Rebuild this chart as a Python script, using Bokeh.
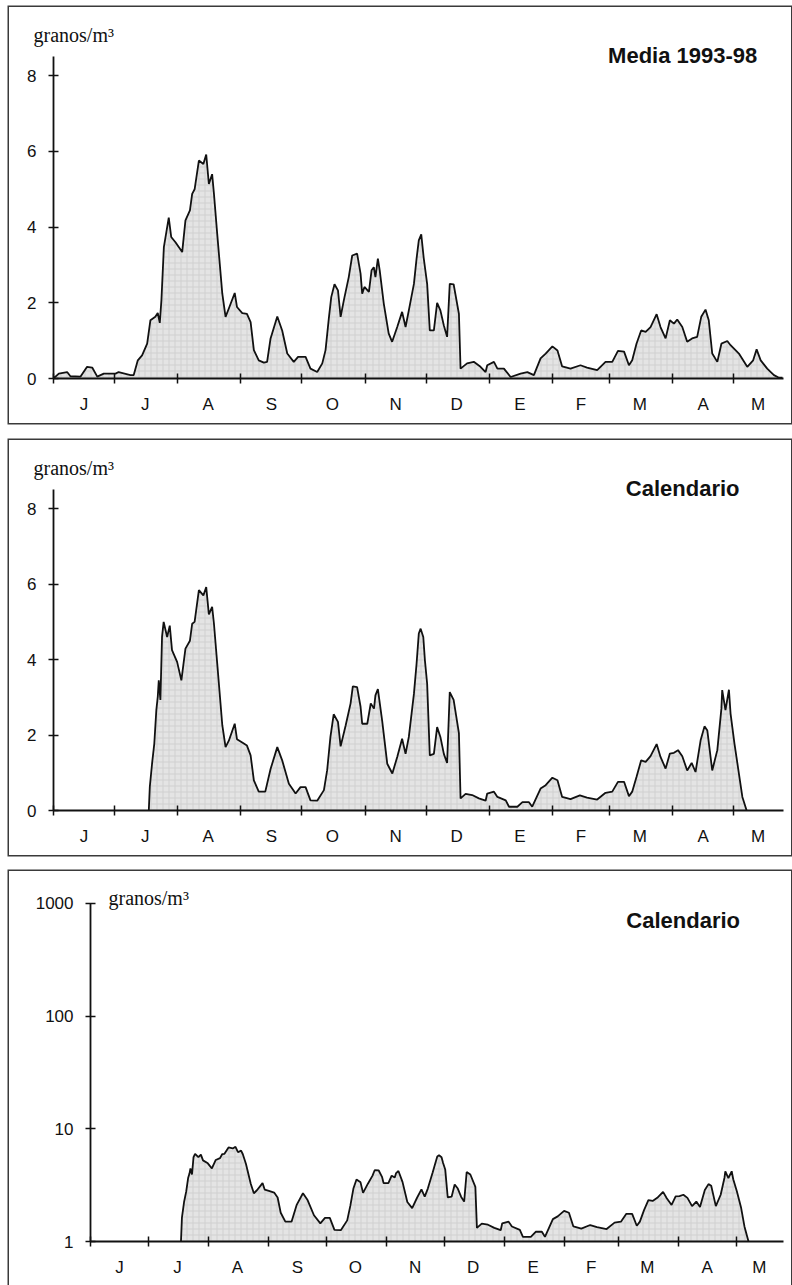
from bokeh.plotting import figure
from bokeh.models import FixedTicker, Label, NumeralTickFormatter, Range1d, Spacer, Title
from bokeh.embed import file_html
from bokeh.resources import INLINE

# ---------------- data ----------------
month_labels = ["J", "J", "A", "S", "O", "N", "D", "E", "F", "M", "A", "M"]
month_starts = [0, 30, 61, 92, 122, 153, 183, 214, 245, 273, 304, 334]
month_mids = [15, 45, 76, 107, 137, 168, 198, 229, 259, 288, 319, 346]
x_end = 358.5

# Panel 1: media 1993-98 (granos/m3), day 0 = 1 June
media_days = [0, 1, 2.6, 6.7, 8.3, 13.3, 16.5, 19, 21.5, 24.7, 30.5, 32, 37.8, 39.4, 41.4, 43.5,
              46, 47.6, 50, 51.2, 52.2, 53, 54.2, 56.6, 57.8, 59.9, 63.2, 64.8, 67, 68.1, 69.3,
              71.4, 73.6, 75, 76.3, 77.9, 78.8, 80.4, 82.9, 84.5, 86.1, 89, 90.1, 92.7, 95, 96.8,
              98.4, 100.8, 103.3, 104.9, 106.6, 109.9, 112.3, 114.8, 118, 120.1, 123.8, 126.2,
              129.5, 132, 133.6, 135.2, 136.4, 138, 139.7, 141, 142.6, 145, 146.7, 149.1, 150.8,
              151.6, 152.7, 154.9, 156.2, 157.3, 158.1, 159.3, 160.2, 162.2, 164.6, 166.3, 168.8,
              171.2, 172.9, 174.5, 177, 178.3, 179.4, 180.6, 181.8, 183.5, 184.8, 186.8, 188.4,
              190, 191.7, 193.3, 194.6, 196.5, 199.1, 199.9, 203.1, 206.4, 209.7, 212.2, 213,
              216.3, 218, 221.2, 224.5, 229.4, 232.7, 235.9, 239.2, 241.7, 245, 247.5, 249.8,
              253.9, 258.8, 262, 267, 271.1, 274.4, 277.2, 280.2, 282.6, 284.2, 286.3, 288.6,
              290.8, 293.2, 296.2, 298.1, 300.6, 302.7, 304.7, 306.3, 308.8, 311.2, 313.6, 316.1,
              318.1, 320.2, 321.8, 323.5, 326, 328, 330.9, 332.5, 336.6, 340.7, 343.6, 345.3,
              347.3, 350.5, 353.8, 356.3, 358]
media_vals = [0.02, 0.05, 0.13, 0.17, 0.06, 0.05, 0.31, 0.29, 0.05, 0.13, 0.13, 0.17, 0.09, 0.09,
              0.48, 0.61, 0.92, 1.54, 1.63, 1.73, 1.47, 2.07, 3.47, 4.25, 3.74, 3.6, 3.34, 4.18,
              4.44, 4.88, 5.0, 5.76, 5.67, 5.92, 5.14, 5.4, 4.88, 3.82, 2.24, 1.63, 1.85, 2.26,
              1.89, 1.73, 1.71, 1.49, 0.75, 0.48, 0.42, 0.44, 1.06, 1.64, 1.27, 0.66, 0.44, 0.57,
              0.57, 0.26, 0.17, 0.4, 0.75, 1.58, 2.15, 2.49, 2.33, 1.63, 2.07, 2.68, 3.25, 3.3,
              2.77, 2.24, 2.42, 2.29, 2.86, 2.94, 2.68, 3.17, 2.86, 1.98, 1.19, 0.97, 1.36, 1.76,
              1.36, 1.8, 2.5, 3.17, 3.65, 3.81, 3.19, 2.5, 1.27, 1.27, 2.0, 1.8, 1.4, 1.1, 2.5,
              2.49, 1.71, 0.26, 0.4, 0.44, 0.31, 0.17, 0.35, 0.44, 0.26, 0.26, 0.04, 0.13, 0.17,
              0.09, 0.53, 0.66, 0.85, 0.74, 0.32, 0.26, 0.35, 0.29, 0.22, 0.44, 0.44, 0.73, 0.71,
              0.35, 0.48, 0.92, 1.27, 1.23, 1.36, 1.7, 1.36, 1.06, 1.54, 1.45, 1.56, 1.36, 0.97,
              1.06, 1.1, 1.63, 1.82, 1.54, 0.66, 0.44, 0.92, 0.99, 0.88, 0.66, 0.31, 0.48, 0.77,
              0.48, 0.26, 0.09, 0.02, 0.02]

# Panels 2 and 3: calendario (granos/m3)
cal_days = [46.8, 47.3, 48.4, 49.5, 50.5, 51.2, 51.7, 52.5, 53.3, 54.1, 55.8, 57.1, 58.2, 60.7,
            62.8, 64.8, 67, 68.1, 69.3, 71.4, 73.6, 75, 76.3, 77.9, 78.8, 80.4, 82.9, 84.5, 86.1,
            89, 90.1, 92.7, 95, 96.8, 98.4, 100.8, 104, 106.6, 109.9, 112.3, 115.6, 118.9,
            121.3, 123.8, 126.2, 129.5, 132.8, 134.4, 136, 137.6, 139.7, 141, 143.5, 145.9, 147,
            149.1, 150.8, 151.6, 154.1, 155.8, 157.4, 158.1, 159.3, 161.4, 163.9, 166.4, 168.8,
            171.2, 172.9, 174.5, 177, 178.3, 179.4, 180.3, 181.6, 182.4, 183.5, 184.8, 186.8,
            188.4, 190, 191.7, 193.3, 194.6, 196.5, 199.1, 199.9, 202.4, 205.6, 208.9, 212.2,
            213, 216.3, 218, 222.1, 223.7, 227.8, 230.3, 233.5, 235.1, 239.2, 241.7, 245, 247.5,
            249.8, 253.9, 258.5, 262, 267, 271.1, 274.4, 277.2, 280.2, 282.6, 284.2, 286.3,
            288.6, 290.8, 293.2, 296.2, 298.1, 300.6, 302.7, 304.7, 306.7, 308.8, 311.2, 313.4,
            315.3, 317.8, 319.7, 321.1, 323.5, 326, 328, 328.4, 330, 331.7, 332.5, 334.4, 336.6,
            338.3, 340.4]
cal_vals = [0, 0.63, 1.24, 1.77, 2.66, 3.01, 3.45, 2.93, 4.6, 5.0, 4.6, 4.9, 4.25, 3.94, 3.45,
            4.29, 4.5, 4.95, 5.0, 5.84, 5.7, 5.92, 5.2, 5.4, 4.95, 3.9, 2.26, 1.68, 1.85, 2.3,
            1.89, 1.8, 1.72, 1.46, 0.8, 0.5, 0.5, 1.1, 1.68, 1.33, 0.71, 0.45, 0.62, 0.62, 0.27,
            0.26, 0.54, 1.07, 1.95, 2.55, 2.35, 1.7, 2.26, 2.84, 3.29, 3.27, 2.75, 2.3, 2.3, 2.84,
            2.7, 3.05, 3.22, 2.38, 1.24, 0.98, 1.42, 1.9, 1.5, 1.95, 3.09, 3.89, 4.69, 4.82, 4.6,
            3.98, 3.36, 1.46, 1.5, 2.21, 1.95, 1.5, 1.26, 3.14, 2.93, 2.05, 0.32, 0.44, 0.41,
            0.32, 0.26, 0.45, 0.5, 0.36, 0.27, 0.1, 0.1, 0.22, 0.22, 0.1, 0.58, 0.67, 0.87, 0.8,
            0.36, 0.3, 0.4, 0.34, 0.29, 0.47, 0.5, 0.76, 0.76, 0.38, 0.5, 0.89, 1.33, 1.29, 1.44,
            1.76, 1.42, 1.11, 1.51, 1.53, 1.6, 1.44, 1.06, 1.26, 1.02, 1.86, 2.23, 2.12, 1.06,
            1.6, 2.7, 3.19, 2.66, 3.2, 2.57, 1.78, 0.98, 0.36, 0]

# panel 3 shows the calendario series as (granos/m3 + 1) on a log scale
cal_log_vals = [v + 1 for v in cal_vals]

linear_ticks = [0, 2, 4, 6, 8]
log_ticks = [1, 10, 100, 1000]

TICK_FONT = "Liberation Sans"
INK = "#111111"
FRAME = {"box-shadow": "0 0 0 1.5px #3a3a3a", "margin-left": "9px"}


def make_panel(height, border_top, border_bottom, border_left, y_range, y_bounds, y_type,
               y_ticks, xs, ys, base):
    p = figure(width=782, height=height, output_backend="svg", toolbar_location=None,
               x_range=Range1d(0, x_end), y_range=y_range, y_axis_type=y_type,
               min_border_left=border_left, min_border_right=8,
               min_border_top=border_top, min_border_bottom=border_bottom,
               outline_line_color=None, background_fill_color="white",
               border_fill_color="white", styles=FRAME)
    p.grid.visible = False

    p.varea(x=xs, y1=[base] * len(xs), y2=ys, fill_color="#e4e4e4",
            hatch_pattern="+", hatch_color="#c9c9c9", hatch_scale=6, hatch_weight=0.7)
    p.line(x=xs, y=ys, line_color=INK, line_width=1.8)

    # x axis: tick marks at month boundaries, labels at month centres
    xa = p.xaxis[0]
    xa.ticker = FixedTicker(ticks=month_mids, minor_ticks=month_starts)
    xa.major_label_overrides = {m: lab for m, lab in zip(month_mids, month_labels)}
    xa.major_tick_line_color = None
    xa.major_tick_in = 0
    xa.major_tick_out = 0
    xa.minor_tick_in = 5
    xa.minor_tick_out = 5
    xa.minor_tick_line_color = INK
    xa.minor_tick_line_width = 1.5
    xa.major_label_standoff = 11
    xa.axis_line_color = INK
    xa.axis_line_width = 1.8
    xa.major_label_text_font = TICK_FONT
    xa.major_label_text_font_size = "17px"
    xa.major_label_text_color = INK

    ya = p.yaxis[0]
    ya.ticker = FixedTicker(ticks=y_ticks)
    ya.bounds = y_bounds
    if y_type == "log":
        ya.formatter = NumeralTickFormatter(format="0")
    ya.minor_tick_line_color = None
    ya.major_tick_in = 5
    ya.major_tick_out = 5
    ya.major_tick_line_color = INK
    ya.major_tick_line_width = 1.5
    ya.major_label_standoff = 12
    ya.axis_line_color = INK
    ya.axis_line_width = 1.8
    ya.major_label_text_font = TICK_FONT
    ya.major_label_text_font_size = "17px"
    ya.major_label_text_color = INK
    return p


def unit_title(p, offset):
    p.add_layout(Title(text="granos/m³", align="left", offset=offset, standoff=0,
                       text_font="Liberation Serif", text_font_size="20px",
                       text_font_style="normal", text_color=INK), "above")


def add_text(p, x, y, text, font, size, style, align):
    p.add_layout(Label(x=x, y=y, text=text, text_font=font, text_font_size=size,
                       text_font_style=style, text_baseline="middle", text_align=align,
                       text_color=INK))


p1 = make_panel(416, 38, 45, 44, Range1d(0, 8.8), (0, 8.5), "linear", linear_ticks,
                media_days, media_vals, 0)
unit_title(p1, -20)
add_text(p1, 309, 8.53, "Media 1993-98", "Liberation Sans", "22px", "bold", "center")

p2 = make_panel(415, 38, 45, 44, Range1d(0, 8.8), (0, 8.5), "linear", linear_ticks,
                cal_days, cal_vals, 0)
unit_title(p2, -20)
add_text(p2, 309, 8.54, "Calendario", "Liberation Sans", "22px", "bold", "center")

p3 = make_panel(414, 9, 44, 81, Range1d(1, 1600), (1, 1000), "log", log_ticks,
                cal_days, cal_log_vals, 1)
add_text(p3, 9.3, 1130, "granos/m³", "Liberation Serif", "20px", "normal", "left")
add_text(p3, 306.6, 707, "Calendario", "Liberation Sans", "22px", "bold", "center")

roots = [Spacer(width=782, height=7), p1, Spacer(width=782, height=17), p2,
         Spacer(width=782, height=16), p3]
open("out.html", "w").write(file_html(roots, INLINE))
